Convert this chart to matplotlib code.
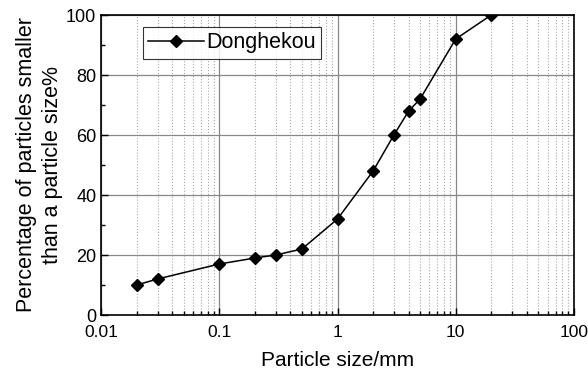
import matplotlib.pyplot as plt
from matplotlib.ticker import LogLocator, FixedLocator, NullFormatter, FuncFormatter

# particle size distribution
sizes = [0.02, 0.03, 0.1, 0.2, 0.3, 0.5, 1, 2, 3, 4, 5, 10, 20]
percent = [10, 12, 17, 19, 20, 22, 32, 48, 60, 68, 72, 92, 100]

plt.rcParams['font.family'] = ['Liberation Sans', 'DejaVu Sans']

fig = plt.figure(figsize=(5.88, 3.75), dpi=100)
ax = fig.add_axes([0.172, 0.16, 0.804, 0.8])

ax.plot(sizes, percent, color='black', lw=1.1, marker='D', ms=6.5, label='Donghekou', zorder=3)

ax.set_xscale('log')
ax.set_xlim(0.01, 100)
ax.set_ylim(0, 100)
ax.xaxis.set_major_locator(LogLocator(base=10, numticks=10))
ax.xaxis.set_minor_locator(LogLocator(base=10, subs=range(2, 10), numticks=100))
ax.xaxis.set_minor_formatter(NullFormatter())
ax.xaxis.set_major_formatter(FuncFormatter(lambda v, p: '%g' % v))
ax.yaxis.set_major_locator(FixedLocator([0, 20, 40, 60, 80, 100]))
ax.yaxis.set_minor_locator(FixedLocator([10, 30, 50, 70, 90]))

ax.grid(which='major', color='#888888', lw=0.9, ls='-')
ax.grid(which='minor', axis='x', color='#aaaaaa', lw=0.8, ls=':')
ax.tick_params(which='both', direction='in', labelsize=13, top=False, right=False)
ax.tick_params(axis='x', labelsize=12.5)
ax.tick_params(which='major', length=5, width=1)
ax.tick_params(which='minor', length=3, width=1)
ax.tick_params(axis='x', which='major', pad=7)
for s in ax.spines.values():
    s.set_linewidth(1.2)

ax.set_xlabel('Particle size/mm', fontsize=15, labelpad=8)
ax.set_ylabel('Percentage of particles smaller\nthan a particle size%', fontsize=15.5, labelpad=2,
              linespacing=1.35)

leg = ax.legend(loc='upper left', bbox_to_anchor=(0.088, 0.96), fontsize=15.5, frameon=True,
                fancybox=False, edgecolor='black', handlelength=2.6, handletextpad=0.1,
                borderpad=0.25, borderaxespad=0)
leg.get_frame().set_linewidth(0.8)

fig.savefig('out.png', dpi=100)
